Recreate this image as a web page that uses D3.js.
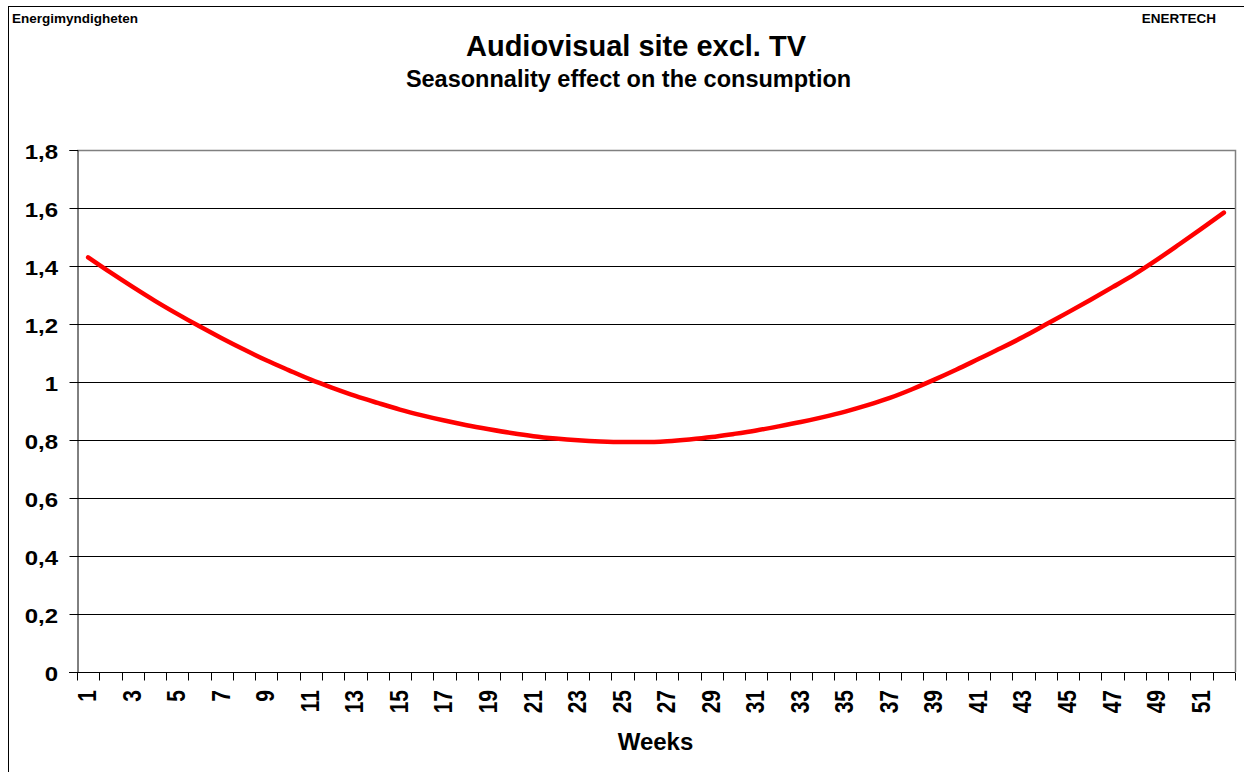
<!DOCTYPE html>
<html><head><meta charset="utf-8">
<script src="https://cdn.jsdelivr.net/npm/d3@7"></script>
<style>
html,body{margin:0;padding:0;background:#fff;}
svg{display:block;font-family:"Liberation Sans",Arial,sans-serif;font-weight:bold;}
</style></head>
<body><svg id="chart" width="1244" height="772"></svg>
<script>
const weeks = d3.range(1, 53);
const values = [1.430,1.378,1.328,1.280,1.235,1.192,1.151,1.112,1.075,1.041,1.008,
  0.979,0.952,0.928,0.905,0.885,0.867,0.851,0.837,0.824,0.813,0.805,0.799,0.795,0.793,
  0.793,0.796,0.802,0.810,0.821,0.833,0.847,0.862,0.879,0.898,0.920,0.945,0.975,1.008,
  1.043,1.080,1.117,1.156,1.198,1.240,1.283,1.327,1.372,1.422,1.475,1.529,1.584];
const yTicks = [0,0.2,0.4,0.6,0.8,1.0,1.2,1.4,1.6,1.8];
const yTickLabels = ["0","0,2","0,4","0,6","0,8","1","1,2","1,4","1,6","1,8"];
const title = "Audiovisual site excl. TV";
const subtitle = "Seasonnality effect on the consumption";

const svg = d3.select("#chart");
const m = {left:77, right:1235, top:150, bottom:672};

svg.append("rect").attr("x",8.5).attr("y",6.5).attr("width",1240).attr("height",800)
  .attr("fill","none").attr("stroke","#000").attr("stroke-width",1);

svg.append("text").attr("x",12).attr("y",23).attr("font-size",13.5).text("Energimyndigheten");
svg.append("text").attr("x",1216).attr("y",23).attr("font-size",13.5).attr("text-anchor","end").text("ENERTECH");
svg.append("text").attr("x",636).attr("y",56).attr("font-size",29).attr("text-anchor","middle").text(title);
svg.append("text").attr("x",628.5).attr("y",87).attr("font-size",23.5).attr("text-anchor","middle").text(subtitle);

const x = d3.scaleBand().domain(weeks).range([m.left, m.right]).paddingInner(0).paddingOuter(0);
const y = d3.scaleLinear().domain([0,1.8]).range([m.bottom, m.top]);

// gridlines
svg.append("g").selectAll("line").data(yTicks.filter(d=>d>0 && d<1.8)).join("line")
  .attr("x1",m.left).attr("x2",m.right)
  .attr("y1",d=>Math.round(y(d))+0.5).attr("y2",d=>Math.round(y(d))+0.5)
  .attr("stroke","#000").attr("stroke-width",1);
// plot border top/right
svg.append("path").attr("d",`M${m.left},${m.top+0.5}H${m.right+0.5}V${m.bottom}`)
  .attr("fill","none").attr("stroke","#808080").attr("stroke-width",1.5);

// y axis
const yAxis = d3.axisLeft(y).tickValues(yTicks).tickSize(8).tickFormat("");
const gy = svg.append("g").attr("transform",`translate(${m.left+0.5},0)`).call(yAxis);
gy.select(".domain").attr("stroke","#000");
gy.selectAll(".tick line").attr("stroke","#000");
svg.append("g").selectAll("text").data(yTicks).join("text")
  .attr("transform",d=>`translate(58,${y(d)+8.5}) scale(1.2,1)`)
  .attr("text-anchor","end").attr("font-size",20).text((d,i)=>yTickLabels[i]);

// x axis: ticks at category boundaries
const gx = svg.append("g").attr("transform",`translate(0,${m.bottom+0.5})`);
gx.append("line").attr("x1",m.left-8).attr("x2",m.right).attr("y1",0).attr("y2",0).attr("stroke","#000");
const bounds = weeks.map(w=>x(w)).concat([m.right]);
gx.selectAll("line.tk").data(bounds).join("line").attr("class","tk")
  .attr("x1",d=>Math.round(d)+0.5).attr("x2",d=>Math.round(d)+0.5).attr("y1",0).attr("y2",8).attr("stroke","#000");
svg.append("g").selectAll("text").data(weeks.filter(w=>w%2===1)).join("text")
  .attr("transform",w=>`translate(${x(w)+x.bandwidth()/2+8},690) scale(1.2,1) rotate(-90)`)
  .attr("text-anchor","end").attr("font-size",21).text(w=>w);

svg.append("text").attr("x",655.5).attr("y",750).attr("font-size",24).attr("text-anchor","middle").text("Weeks");

// line
const line = d3.line().x((d,i)=>x(weeks[i])+x.bandwidth()/2).y(d=>y(d)).curve(d3.curveMonotoneX);
svg.append("path").datum(values).attr("d",line).attr("fill","none")
  .attr("stroke","#ff0000").attr("stroke-width",4.5).attr("stroke-linecap","round");
</script></body></html>
